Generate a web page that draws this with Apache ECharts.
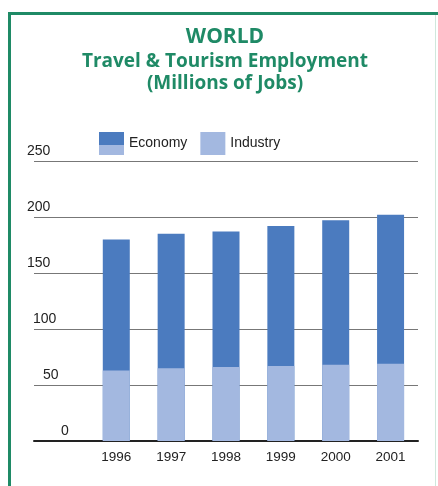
<!DOCTYPE html>
<html>
<head>
<meta charset="utf-8">
<style>
  html, body { margin: 0; padding: 0; background: #fff; }
  #chart { width: 438px; height: 486px; }
</style>
<script src="https://cdn.jsdelivr.net/npm/echarts@6/dist/echarts.min.js"></script>
</head>
<body>
<div id="chart"></div>
<script>
// World travel & tourism employment, millions of jobs
const years = ['1996', '1997', '1998', '1999', '2000', '2001'];
const economyJobs = [180, 185, 187, 192, 197, 202];
const industryJobs = [63, 65, 66, 67, 68, 69];
const yTicks = [0, 50, 100, 150, 200, 250];

const DARK = '#4b7bbf';
const LIGHT = '#a3b8e0';
const GREEN = '#1f8a66';

// leading blank band leaves room for the tick labels under the gridlines
const axisCats = [''].concat(years);
const pad = arr => ['-'].concat(arr);

// left offsets for the tick labels
const labelShift = { 0: 34, 50: 16, 100: 6, 150: 0, 200: 0, 250: 0 };
const rich = {};
yTicks.forEach(v => {
  rich['t' + v] = { padding: [0, 0, 3, labelShift[v]], fontSize: 14, color: '#222', fontFamily: 'Liberation Sans' };
});

const chart = echarts.init(document.getElementById('chart'), null, { renderer: 'canvas' });
chart.setOption({
  animation: false,
  backgroundColor: '#fff',
  graphic: [
    { type: 'rect', shape: { x: 8, y: 12, width: 3, height: 474 }, style: { fill: GREEN } },
    { type: 'rect', shape: { x: 8, y: 12, width: 430, height: 3 }, style: { fill: GREEN } },
    { type: 'rect', shape: { x: 435, y: 15, width: 1, height: 471 }, style: { fill: '#cfe8dc' } },
    { type: 'text', x: 225, y: 37, style: { text: 'WORLD', textAlign: 'center', textVerticalAlign: 'middle', fill: GREEN, font: 'bold 21px "Open Sans"' } },
    { type: 'text', x: 225, y: 62, style: { text: 'Travel & Tourism Employment', textAlign: 'center', textVerticalAlign: 'middle', fill: GREEN, font: 'bold 19px "Open Sans"' } },
    { type: 'text', x: 225, y: 84, style: { text: '(Millions of Jobs)', textAlign: 'center', textVerticalAlign: 'middle', fill: GREEN, font: 'bold 19px "Open Sans"' } }
  ],
  legend: {
    left: 99,
    top: 132,
    padding: 0,
    itemWidth: 25,
    itemHeight: 23,
    itemGap: 13,
    icon: 'rect',
    textStyle: { fontSize: 14, color: '#222', fontFamily: 'Liberation Sans', padding: [4, 0, 0, 0] },
    data: [
      {
        name: 'Economy',
        itemStyle: {
          color: new echarts.graphic.LinearGradient(0, 0, 0, 1, [
            { offset: 0, color: DARK }, { offset: 0.55, color: DARK },
            { offset: 0.55, color: LIGHT }, { offset: 1, color: LIGHT }
          ])
        }
      },
      { name: 'Industry', itemStyle: { color: LIGHT } }
    ]
  },
  grid: { left: 34, right: 20, top: 161, bottom: 45 },
  xAxis: {
    type: 'category',
    data: axisCats,
    axisLine: { lineStyle: { color: '#222', width: 2 } },
    axisTick: { show: false },
    axisLabel: { fontSize: 13.5, color: '#222', fontFamily: 'Liberation Sans', margin: 9 },
    splitLine: { show: false }
  },
  yAxis: {
    type: 'value',
    min: 0,
    max: 250,
    interval: 50,
    axisLine: { show: false },
    axisTick: { show: false },
    splitLine: { lineStyle: { color: '#777', width: 1 } },
    axisLabel: {
      align: 'left',
      margin: 7,
      verticalAlign: 'bottom',
      lineHeight: 16,
      formatter: v => '{t' + v + '|' + v + '}',
      rich: rich
    }
  },
  series: [
    {
      name: 'Economy',
      type: 'bar',
      data: pad(economyJobs),
      barWidth: 27,
      barGap: '-100%',
      itemStyle: { color: DARK }
    },
    {
      name: 'Industry',
      type: 'bar',
      data: pad(industryJobs),
      barWidth: 27,
      itemStyle: { color: LIGHT }
    }
  ]
});
</script>
</body>
</html>
